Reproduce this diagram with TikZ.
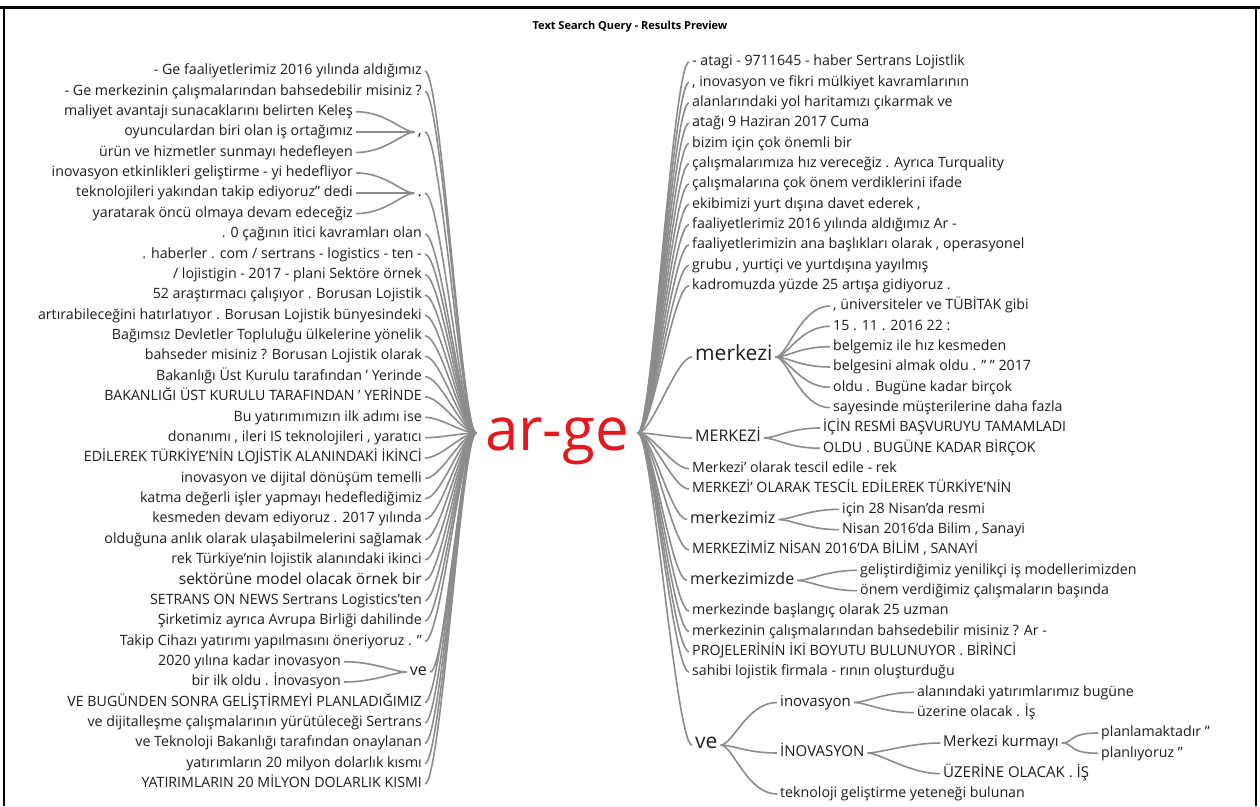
\documentclass[tikz,border=0pt]{standalone}
\usepackage{fontspec}
\setmainfont{Open Sans}
\usepackage{tikz}
\usetikzlibrary{positioning}
\definecolor{wtred}{HTML}{E2191F}
\definecolor{wtgray}{HTML}{8C8C8C}
\definecolor{wtink}{HTML}{1E1E1E}

\begin{document}
\begin{tikzpicture}[x=1pt,y=-1pt,font=\fontsize{14.2}{16}\selectfont,text=wtink]
  \tikzstyle{lf}=[inner xsep=3pt,inner ysep=0pt,text height=10.5pt,text depth=3pt]
  \tikzstyle{ll}=[lf,anchor=east]
  \tikzstyle{rl}=[lf,anchor=west]
  \tikzstyle{mid}=[font=\fontsize{16}{18}\selectfont]
  \tikzstyle{deep}=[font=\fontsize{15}{17}\selectfont]
  \tikzstyle{big}=[font=\fontsize{21}{23}\selectfont]
  \tikzstyle{wire}=[draw=wtgray,line width=1.6pt]
  \tikzstyle{lbr}=[wire,to path={.. controls +(-14,0) and +(16,0) .. (\tikztotarget)}]
  \tikzstyle{rbr}=[wire,to path={.. controls +(14,0) and +(-16,0) .. (\tikztotarget)}]
  \tikzstyle{lfan}=[wire,to path={.. controls +(-12,0) and +(30,0) .. (\tikztotarget)}]
  \tikzstyle{rfan}=[wire,to path={.. controls +(12,0) and +(-30,0) .. (\tikztotarget)}]
  \useasboundingbox (0,0) rectangle (1260,806);
  \fill[white] (0,0) rectangle (1260,806);
  \draw[line width=3pt] (0,7) -- (1260,7);
  \draw[line width=2pt] (4,7) -- (4,806);
  \draw[line width=2pt] (1256,7) -- (1256,806);
  \node[font=\bfseries\fontsize{11}{13}\selectfont,text=black] (title) at (630,27) {Text Search Query - Results Preview};

  % root
  \node[text=wtred,font=\fontsize{60}{64}\selectfont,inner sep=0pt,anchor=base] (arge) at (557,450) {ar-ge};
  \coordinate (argeL) at (476,433);
  \coordinate (argeR) at (638,433);

  % left side
  \node[ll] (L0) at (425,71) {- Ge faaliyetlerimiz 2016 yılında aldığımız};
  \node[ll] (L1) at (425,91.4) {- Ge merkezinin çalışmalarından bahsedebilir misiniz ?};
  \node[ll,mid] (Lcm) at (425,132.1) {,};
  \node[ll] (L2) at (356,111.7) {maliyet avantajı sunacaklarını belirten Keleş};
  \node[ll] (L3) at (356,132.1) {oyunculardan biri olan iş ortağımız};
  \node[ll] (L4) at (356,152.5) {ürün ve hizmetler sunmayı hedefleyen};
  \node[ll,mid] (Ldt) at (425,193.2) {.};
  \node[ll] (L5) at (356,172.9) {inovasyon etkinlikleri geliştirme - yi hedefliyor};
  \node[ll] (L6) at (356,193.2) {teknolojileri yakından takip ediyoruz" dedi};
  \node[ll] (L7) at (356,213.6) {yaratarak öncü olmaya devam edeceğiz};
  \node[ll] (L8) at (425,234) {. 0 çağının itici kavramları olan};
  \node[ll] (L9) at (425,254.3) {. haberler . com / sertrans - logistics - ten -};
  \node[ll] (L10) at (425,274.7) {/ lojistigin - 2017 - plani Sektöre örnek};
  \node[ll] (L11) at (425,295) {52 araştırmacı çalışıyor . Borusan Lojistik};
  \node[ll] (L12) at (425,315.4) {artırabileceğini hatırlatıyor . Borusan Lojistik bünyesindeki};
  \node[ll] (L13) at (425,335.8) {Bağımsız Devletler Topluluğu ülkelerine yönelik};
  \node[ll] (L14) at (425,356.2) {bahseder misiniz ? Borusan Lojistik olarak};
  \node[ll] (L15) at (425,376.6) {Bakanlığı Üst Kurulu tarafından ' Yerinde};
  \node[ll] (L16) at (425,396.9) {BAKANLIĞI ÜST KURULU TARAFINDAN ' YERİNDE};
  \node[ll] (L17) at (425,417.3) {Bu yatırımımızın ilk adımı ise};
  \node[ll] (L18) at (425,437.7) {donanımı , ileri IS teknolojileri , yaratıcı};
  \node[ll] (L19) at (425,458) {EDİLEREK TÜRKİYE'NİN LOJİSTİK ALANINDAKİ İKİNCİ};
  \node[ll] (L20) at (425,478.4) {inovasyon ve dijital dönüşüm temelli};
  \node[ll] (L21) at (425,498.8) {katma değerli işler yapmayı hedeflediğimiz};
  \node[ll] (L22) at (425,519.2) {kesmeden devam ediyoruz . 2017 yılında};
  \node[ll] (L23) at (425,539.5) {olduğuna anlık olarak ulaşabilmelerini sağlamak};
  \node[ll] (L24) at (425,560) {rek Türkiye'nin lojistik alanındaki ikinci};
  \node[ll,font=\fontsize{15.5}{17}\selectfont] (L25) at (425,580.3) {sektörüne model olacak örnek bir};
  \node[ll] (L26) at (425,600.6) {SETRANS ON NEWS Sertrans Logistics'ten};
  \node[ll] (L27) at (425,621) {Şirketimiz ayrıca Avrupa Birliği dahilinde};
  \node[ll] (L28) at (425,641.4) {Takip Cihazı yatırımı yapılmasını öneriyoruz . "};
  \node[ll,mid] (Lve) at (430,672) {ve};
  \node[ll] (L29) at (344,661.7) {2020 yılına kadar inovasyon};
  \node[ll] (L30) at (344,682) {bir ilk oldu . İnovasyon};
  \node[ll] (L31) at (425,702.5) {VE BUGÜNDEN SONRA GELİŞTİRMEYİ PLANLADIĞIMIZ};
  \node[ll] (L32) at (425,723) {ve dijitalleşme çalışmalarının yürütüleceği Sertrans};
  \node[ll] (L33) at (425,743.2) {ve Teknoloji Bakanlığı tarafından onaylanan};
  \node[ll] (L34) at (425,763.6) {yatırımların 20 milyon dolarlık kısmı};
  \node[ll] (L35) at (425,784) {YATIRIMLARIN 20 MİLYON DOLARLIK KISMI};

  % right side
  \node[rl] (R0) at (689,62) {- atagi - 9711645 - haber Sertrans Lojistlik};
  \node[rl] (R1) at (689,82.3) {, inovasyon ve fikri mülkiyet kavramlarının};
  \node[rl] (R2) at (689,102.7) {alanlarındaki yol haritamızı çıkarmak ve};
  \node[rl] (R3) at (689,123) {atağı 9 Haziran 2017 Cuma};
  \node[rl] (R4) at (689,143.3) {bizim için çok önemli bir};
  \node[rl] (R5) at (689,163.7) {çalışmalarımıza hız vereceğiz . Ayrıca Turquality};
  \node[rl] (R6) at (689,184) {çalışmalarına çok önem verdiklerini ifade};
  \node[rl] (R7) at (689,204.3) {ekibimizi yurt dışına davet ederek ,};
  \node[rl] (R8) at (689,224.7) {faaliyetlerimiz 2016 yılında aldığımız Ar -};
  \node[rl] (R9) at (689,245) {faaliyetlerimizin ana başlıkları olarak , operasyonel};
  \node[rl] (R10) at (689,265.3) {grubu , yurtiçi ve yurtdışına yayılmış};
  \node[rl] (R11) at (689,285.7) {kadromuzda yüzde 25 artışa gidiyoruz .};
  \node[rl,big] (mkz) at (692,357) {merkezi};
  \node[rl] (mkz1) at (830,306) {, üniversiteler ve TÜBİTAK gibi};
  \node[rl] (mkz2) at (830,326.3) {15 . 11 . 2016 22 :};
  \node[rl] (mkz3) at (830,346.7) {belgemiz ile hız kesmeden};
  \node[rl] (mkz4) at (830,367) {belgesini almak oldu . " " 2017};
  \node[rl] (mkz5) at (830,387.3) {oldu . Bugüne kadar birçok};
  \node[rl] (mkz6) at (830,407.7) {sayesinde müşterilerine daha fazla};
  \node[rl,mid] (MKZ) at (692,438) {MERKEZİ};
  \node[rl] (MKZ1) at (820,428) {İÇİN RESMİ BAŞVURUYU TAMAMLADI};
  \node[rl] (MKZ2) at (820,448.3) {OLDU . BUGÜNE KADAR BİRÇOK};
  \node[rl] (R20) at (689,468.7) {Merkezi' olarak tescil edile - rek};
  \node[rl] (R21) at (689,489) {MERKEZİ' OLARAK TESCİL EDİLEREK TÜRKİYE'NİN};
  \node[rl,mid] (mkzmz) at (687,519.5) {merkezimiz};
  \node[rl] (mkzmz1) at (839,509.3) {için 28 Nisan'da resmi};
  \node[rl] (mkzmz2) at (839,529.7) {Nisan 2016'da Bilim , Sanayi};
  \node[rl] (R24) at (689,550) {MERKEZİMİZ NİSAN 2016'DA BİLİM , SANAYİ};
  \node[rl,mid] (mkzde) at (687,580.5) {merkezimizde};
  \node[rl] (mkzde1) at (857,570.3) {geliştirdiğimiz yenilikçi iş modellerimizden};
  \node[rl] (mkzde2) at (857,590.7) {önem verdiğimiz çalışmaların başında};
  \node[rl] (R27) at (689,611) {merkezinde başlangıç olarak 25 uzman};
  \node[rl] (R28) at (689,631.3) {merkezinin çalışmalarından bahsedebilir misiniz ? Ar -};
  \node[rl] (R29) at (689,651.7) {PROJELERİNİN İKİ BOYUTU BULUNUYOR . BİRİNCİ};
  \node[rl] (R30) at (689,672) {sahibi lojistik firmala - rının oluşturduğu};
  \node[rl,big] (rve) at (692,745) {ve};
  \node[rl,deep] (inv) at (777,702.5) {inovasyon};
  \node[rl] (inv1) at (914,692.3) {alanındaki yatırımlarımız bugüne};
  \node[rl] (inv2) at (914,712.7) {üzerine olacak . İş};
  \node[rl,deep] (INV) at (777,753) {İNOVASYON};
  \node[rl,deep] (mkur) at (940,743) {Merkezi kurmayı};
  \node[rl] (mkur1) at (1098,733) {planlamaktadır "};
  \node[rl] (mkur2) at (1098,753.3) {planlıyoruz "};
  \node[rl,deep] (uzr) at (940,773.7) {ÜZERİNE OLACAK . İŞ};
  \node[rl] (tek) at (777,794) {teknoloji geliştirme yeteneği bulunan};

  % left branches
  \draw[lbr] (argeL) to (L0.east); \draw[lbr] (argeL) to (L1.east);
  \draw[lbr] (argeL) to (Lcm.east); \draw[lbr] (argeL) to (Ldt.east);
  \draw[lbr] (argeL) to (L8.east); \draw[lbr] (argeL) to (L9.east);
  \draw[lbr] (argeL) to (L10.east); \draw[lbr] (argeL) to (L11.east);
  \draw[lbr] (argeL) to (L12.east); \draw[lbr] (argeL) to (L13.east);
  \draw[lbr] (argeL) to (L14.east); \draw[lbr] (argeL) to (L15.east);
  \draw[lbr] (argeL) to (L16.east); \draw[lbr] (argeL) to (L17.east);
  \draw[lbr] (argeL) to (L18.east); \draw[lbr] (argeL) to (L19.east);
  \draw[lbr] (argeL) to (L20.east); \draw[lbr] (argeL) to (L21.east);
  \draw[lbr] (argeL) to (L22.east); \draw[lbr] (argeL) to (L23.east);
  \draw[lbr] (argeL) to (L24.east); \draw[lbr] (argeL) to (L25.east);
  \draw[lbr] (argeL) to (L26.east); \draw[lbr] (argeL) to (L27.east);
  \draw[lbr] (argeL) to (L28.east); \draw[lbr] (argeL) to (Lve.east);
  \draw[lbr] (argeL) to (L31.east); \draw[lbr] (argeL) to (L32.east);
  \draw[lbr] (argeL) to (L33.east); \draw[lbr] (argeL) to (L34.east);
  \draw[lbr] (argeL) to (L35.east);
  \draw[lfan] (Lcm.west) to (L2.east); \draw[lfan] (Lcm.west) to (L3.east); \draw[lfan] (Lcm.west) to (L4.east);
  \draw[lfan] (Ldt.west) to (L5.east); \draw[lfan] (Ldt.west) to (L6.east); \draw[lfan] (Ldt.west) to (L7.east);
  \draw[lfan] (Lve.west) to (L29.east); \draw[lfan] (Lve.west) to (L30.east);

  % right branches
  \draw[rbr] (argeR) to (R0.west); \draw[rbr] (argeR) to (R1.west);
  \draw[rbr] (argeR) to (R2.west); \draw[rbr] (argeR) to (R3.west);
  \draw[rbr] (argeR) to (R4.west); \draw[rbr] (argeR) to (R5.west);
  \draw[rbr] (argeR) to (R6.west); \draw[rbr] (argeR) to (R7.west);
  \draw[rbr] (argeR) to (R8.west); \draw[rbr] (argeR) to (R9.west);
  \draw[rbr] (argeR) to (R10.west); \draw[rbr] (argeR) to (R11.west);
  \draw[rbr] (argeR) to (mkz.west); \draw[rbr] (argeR) to (MKZ.west);
  \draw[rbr] (argeR) to (R20.west); \draw[rbr] (argeR) to (R21.west);
  \draw[rbr] (argeR) to (mkzmz.west); \draw[rbr] (argeR) to (R24.west);
  \draw[rbr] (argeR) to (mkzde.west); \draw[rbr] (argeR) to (R27.west);
  \draw[rbr] (argeR) to (R28.west); \draw[rbr] (argeR) to (R29.west);
  \draw[rbr] (argeR) to (R30.west); \draw[rbr] (argeR) to (rve.west);
  \draw[rfan] (mkz.east) to (mkz1.west); \draw[rfan] (mkz.east) to (mkz2.west);
  \draw[rfan] (mkz.east) to (mkz3.west); \draw[rfan] (mkz.east) to (mkz4.west);
  \draw[rfan] (mkz.east) to (mkz5.west); \draw[rfan] (mkz.east) to (mkz6.west);
  \draw[rfan] (MKZ.east) to (MKZ1.west); \draw[rfan] (MKZ.east) to (MKZ2.west);
  \draw[rfan] (mkzmz.east) to (mkzmz1.west); \draw[rfan] (mkzmz.east) to (mkzmz2.west);
  \draw[rfan] (mkzde.east) to (mkzde1.west); \draw[rfan] (mkzde.east) to (mkzde2.west);
  \draw[rfan] (rve.east) to (inv.west); \draw[rfan] (rve.east) to (INV.west); \draw[rfan] (rve.east) to (tek.west);
  \draw[rfan] (inv.east) to (inv1.west); \draw[rfan] (inv.east) to (inv2.west);
  \draw[rfan] (INV.east) to (mkur.west); \draw[rfan] (INV.east) to (uzr.west);
  \draw[rfan] (mkur.east) to (mkur1.west); \draw[rfan] (mkur.east) to (mkur2.west);
\end{tikzpicture}
\end{document}
